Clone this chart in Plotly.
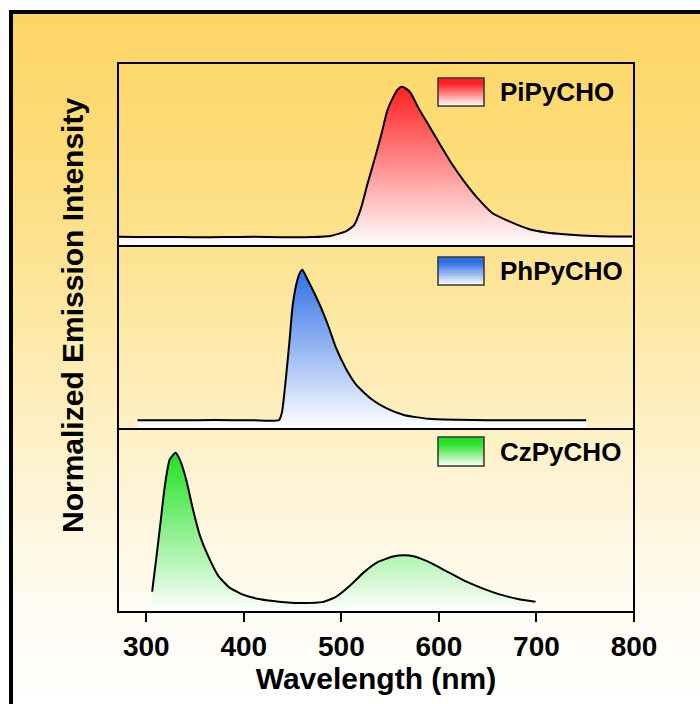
import numpy as np
import plotly.graph_objects as go
from plotly.subplots import make_subplots

# ---------------- data ----------------
pi_x = [271, 290, 320, 350, 380, 410, 440, 470, 490, 505, 513, 520, 527, 535, 542, 547,
        553, 558, 562, 566, 571, 579, 590, 600, 613, 626, 641, 655, 674, 692, 710, 728,
        765, 798]
pi_y = [0.058, 0.056, 0.057, 0.055, 0.056, 0.058, 0.055, 0.056, 0.065, 0.093, 0.131, 0.235,
        0.395, 0.565, 0.726, 0.849, 0.934, 0.985, 1.0, 0.99, 0.962, 0.868, 0.754, 0.650,
        0.518, 0.405, 0.291, 0.206, 0.150, 0.107, 0.085, 0.074, 0.062, 0.060]

ph_x = [291, 330, 370, 410, 436, 439, 443, 447, 450, 454, 457, 460, 465, 472, 479, 487,
        494, 505, 516, 531, 546, 564, 589, 619, 650, 700, 751]
ph_y = [0.055, 0.055, 0.056, 0.055, 0.056, 0.102, 0.310, 0.565, 0.773, 0.915, 0.975, 1.0,
        0.943, 0.858, 0.764, 0.641, 0.518, 0.376, 0.272, 0.187, 0.131, 0.088, 0.064, 0.058,
        0.055, 0.055, 0.055]

cz_x = [306, 311, 315, 319, 324, 330, 335, 341, 348, 355, 363, 374, 385, 399, 417, 436,
        458, 480, 494, 509, 523, 538, 553, 564, 575, 589, 607, 626, 644, 663, 681, 699]
cz_y = [0.128, 0.376, 0.584, 0.792, 0.958, 1.0, 0.948, 0.830, 0.641, 0.480, 0.357, 0.225,
        0.155, 0.109, 0.080, 0.065, 0.057, 0.062, 0.093, 0.166, 0.249, 0.316, 0.349, 0.357,
        0.349, 0.316, 0.259, 0.197, 0.150, 0.109, 0.082, 0.065]

names = ["PiPyCHO", "PhPyCHO", "CzPyCHO"]
colors = ["#ff1f1f", "#2f6fe6", "#1fe01f"]
x_ticks = [300, 400, 500, 600, 700, 800]

series = [(pi_x, pi_y), (ph_x, ph_y), (cz_x, cz_y)]

# ---------------- layout geometry ----------------
W, H = 700, 704
ML, MR, MT, MB = 118, 66, 63, 92
PW, PH = W - ML - MR, H - MT - MB
FONT = "Liberation Sans, Arial"


def px(xp):
    return (xp - ML) / PW


def py(yp):
    return (H - MB - yp) / PH


fig = make_subplots(rows=3, cols=1, shared_xaxes=True, vertical_spacing=0)

for i, ((xs, ys), nm, col) in enumerate(zip(series, names, colors)):
    fig.add_trace(go.Scatter(
        x=xs, y=ys, mode="lines", name=nm, showlegend=False,
        line=dict(color="black", width=2, shape="spline", smoothing=0.5),
        fill="tozeroy",
        fillgradient=dict(type="vertical", colorscale=[[0, "white"], [1, col]]),
    ), row=i + 1, col=1)

shapes = []
# background gradient inside the frame
ctrl_y = [12, 150, 300, 450, 600, 704]
ctrl_c = [(253, 213, 102), (253, 220, 120), (253, 230, 158), (254, 242, 203),
          (255, 251, 240), (255, 255, 255)]
edges = np.arange(12, 706, 6)
for a, b in zip(edges[:-1], edges[1:]):
    m = (a + b) / 2
    c = [int(round(np.interp(m, ctrl_y, [cc[k] for cc in ctrl_c]))) for k in range(3)]
    shapes.append(dict(type="rect", xref="paper", yref="paper", layer="below",
                       x0=px(11), x1=px(710), y0=py(a), y1=py(b + 1),
                       line=dict(width=0), fillcolor=f"rgb({c[0]},{c[1]},{c[2]})"))
# outer frame
shapes.append(dict(type="rect", xref="paper", yref="paper", layer="above",
                   x0=px(11), x1=px(720), y0=py(12), y1=py(730),
                   line=dict(color="black", width=4), fillcolor="rgba(0,0,0,0)"))

# panel frames
for r, ax in enumerate(["", "2", "3"]):
    shapes.append(dict(type="rect", xref=f"x{ax} domain", yref=f"y{ax} domain",
                       layer="above", x0=0, x1=1, y0=0, y1=1,
                       line=dict(color="black", width=2), fillcolor="rgba(0,0,0,0)"))

# legend swatches (gradient boxes)
sw = [(78, 106), (257, 285), (437, 466)]
text_y = [92, 271, 452]
annotations = []
for (y0, y1), col, nm, ty in zip(sw, colors, names, text_y):
    n = 14
    hx = int(col[1:3], 16), int(col[3:5], 16), int(col[5:7], 16)
    for k in range(n):
        t = 1 - (k + 0.5) / n  # 1 at top
        f = min(1.0, t * 1.25)
        c = [int(round(255 + (hx[j] - 255) * f)) for j in range(3)]
        ya = y0 + (y1 - y0) * k / n
        yb = y0 + (y1 - y0) * (k + 1) / n
        shapes.append(dict(type="rect", xref="paper", yref="paper", layer="above",
                           x0=px(438), x1=px(484), y0=py(ya), y1=py(yb + 0.6),
                           line=dict(width=0), fillcolor=f"rgb({c[0]},{c[1]},{c[2]})"))
    shapes.append(dict(type="rect", xref="paper", yref="paper", layer="above",
                       x0=px(438), x1=px(484), y0=py(y0), y1=py(y1),
                       line=dict(color="#333333", width=1.5), fillcolor="rgba(0,0,0,0)"))
    annotations.append(dict(text=nm, xref="paper", yref="paper", x=px(498), y=py(ty),
                            xanchor="left", yanchor="middle", showarrow=False,
                            font=dict(family=FONT, size=26, color="black", weight="bold")))

annotations.append(dict(text="Normalized Emission Intensity", xref="paper", yref="paper",
                        x=px(72), y=py(316), textangle=-90, showarrow=False,
                        xanchor="center", yanchor="middle",
                        font=dict(family=FONT, size=30, color="black", weight="bold")))

fig.update_layout(
    width=W, height=H, margin=dict(l=ML, r=MR, t=MT, b=MB),
    paper_bgcolor="white", plot_bgcolor="rgba(0,0,0,0)",
    shapes=shapes, annotations=annotations, showlegend=False,
    font=dict(family=FONT, color="black"),
)

for r in (1, 2, 3):
    fig.update_yaxes(range=[0, 1.15], showticklabels=False, ticks="", showgrid=False,
                     zeroline=False, showline=False, row=r, col=1)
    fig.update_xaxes(range=[271, 800], showgrid=False, zeroline=False, showline=False,
                     row=r, col=1, ticks="", showticklabels=False)

fig.update_xaxes(row=3, col=1, ticks="outside", ticklen=9, tickwidth=2, tickcolor="black",
                 tickvals=x_ticks, showticklabels=True,
                 tickfont=dict(family=FONT, size=28, color="black", weight="bold"),
                 title=dict(text="Wavelength (nm)", standoff=6,
                            font=dict(family=FONT, size=30, color="black", weight="bold")))

fig.write_html("out.html", config={"displayModeBar": False},
               post_script="document.body.style.margin='0';document.body.style.overflow='hidden';")
